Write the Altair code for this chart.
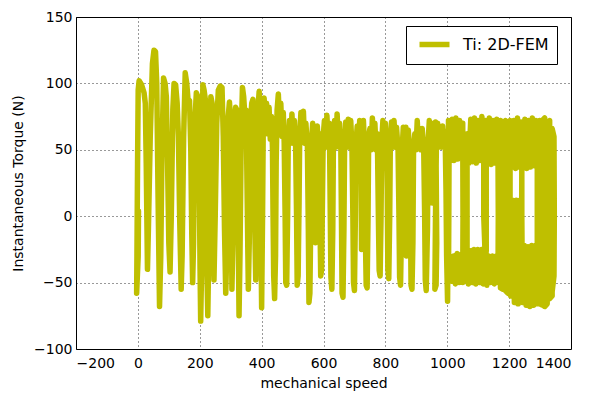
import altair as alt
import pandas as pd

# Trajectory of instantaneous torque vs mechanical speed (in drawing order)
speed_a = [0, 2, 1, -4, -3, -1, 1, 4, 12, 20, 24, 27, 31, 34, 40, 47, 52, 57, 61, 65, 70, 74, 78, 83, 88, 92, 96, 100,
           104, 108, 113, 117, 122, 127, 131, 135, 140, 143, 148, 153, 158, 162, 167, 171, 174, 177, 180, 184, 189,
           194, 198]
torque_a = [0, 4, -30, -58, -30, 40, 95, 102, 99, 93, 85, 40, -40, -10, 60, 115, 125, 124, 100, 20, -68, -30, 50, 104,
            100, 90, 40, -20, -42, 0, 80, 100, 99, 85, 60, 0, -55, -30, 60, 108, 100, 88, 87, 50, -10, -50, -20, 70, 93,
            90, 40]

speed_b = [201, 203, 206, 208, 210, 214, 218, 221, 223, 226, 229, 232, 236, 240, 243, 246, 250, 255, 260, 266, 272, 276,
           280, 284, 288, 292, 296, 300, 302, 304, 307, 311, 316, 320, 323, 327, 330, 334, 338, 342, 346, 350, 353, 357,
           360, 364, 368, 372, 375, 378, 381, 384, 388, 392, 396, 398, 400]
torque_b = [-40, -79, -40, 40, 99, 95, 88, 30, -40, -75, -30, 50, 90, 85, 20, -48, 0, 70, 95, 98, 97, 60, -10, -58, -20,
            75, 86, 70, 0, -55, -20, 70, 82, 80, 20, -75, -30, 60, 97, 90, 75, 80, 20, -55, -20, 70, 85, 88, 60, -10,
            -48, 0, 80, 94, 60, -20, -69]

speed_c = [403, 405, 408, 412, 416, 420, 424, 428, 432, 435,
           437, 439, 442, 445, 447, 450, 454, 458, 462, 466, 470, 473,
           476, 478, 481, 484, 486, 490, 494, 498, 502, 506, 510,
           513, 515, 518, 521, 523, 527, 531, 535, 539, 543, 548,
           551, 553, 556, 559, 561, 565, 569, 572, 574, 577, 580, 584, 587,
           589, 591, 594, 597, 599, 603, 607, 611, 615, 619]
torque_c = [0, 60, 89, 70, 85, 62, 82, 58, 75, 52,
            0, -45, -62, -30, 40, 80, 92, 70, 85, 60, 78, 55,
            0, -50, -52, 0, 55, 72, 55, 77, 55, 72, 52,
            0, -52, -45, 10, 60, 78, 60, 79, 55, 70, 52,
            -10, -65, -58, 0, 55, 70, 50, 66, -20, 40, 68, 50, 62,
            -10, -45, -40, 20, 60, 72, 52, 76, 55, 70]

speed_d = [622, 624, 627, 630, 632, 636, 640, 644, 648, 652, 656,
           658, 660, 663, 666, 668, 672, 676, 680, 684, 688, 692,
           695, 697, 700, 703, 705, 709, 713, 717, 721, 723, 726, 729, 733,
           735, 738, 741, 744, 746, 750, 754, 758, 762, 766, 770, 774,
           778, 780, 783, 786, 788, 792, 796, 800, 804]
torque_d = [0, -46, -55, -10, 55, 72, 52, 77, 55, 70, 52,
            0, -58, -61, -10, 50, 71, 52, 73, 52, 72, 52,
            0, -50, -56, 0, 55, 68, 50, 72, 52, -25, 40, 72, 50,
            -10, -52, -54, 0, 60, 66, 50, 74, 52, 70, 50, 62,
            -10, -41, -45, 0, 55, 72, 52, 70, 52]

speed_e = [806, 808, 811, 814, 816, 820, 824, 828, 832, 836, 841,
           844, 846, 849, 852, 854, 858, 862, 866, 868, 871, 874, 878,
           881, 883, 886, 889, 891, 895, 899, 903, 907, 911, 915, 919, 924,
           927, 929, 932, 936, 938, 942, 946, 950, 952, 955, 959, 962,
           964, 966, 964, 960, 962, 965, 969, 973, 977, 981, 985, 989, 993, 996, 998, 1001]
torque_e = [20, -40, -47, 0, 55, 71, 52, 72, 52, 67, 50,
            0, -46, -52, -10, 50, 67, 50, 67, -30, 40, 65, 50,
            0, -52, -55, -20, 50, 62, 50, 72, 52, 66, 50, 66, 50,
            0, -48, -56, -10, 55, 72, 52, 70, 10, 66, 50, 71,
            40, -20, -52, -55, 0, 55, 70, 52, 66, 52, 68, 52, 64, 20, -30, -64]

# 1000-1060: loop around the first hole
speed_f = [1003, 1004, 1010, 1016, 1022, 1028, 1034, 1040, 1046, 1050, 1051, 1050,
           1044, 1038, 1032, 1026, 1020, 1014, 1008, 1004, 1005, 1006, 1030, 1064]
torque_f = [0, 72, 42, 73, 42, 74, 43, 72, 44, 70, 0, -50,
            -29, -50, -28, -51, -30, -49, -30, -47, 0, 58, 60, 62]

# 1064-1164: two holes
speed_g = [1070, 1076, 1082, 1088, 1094, 1100, 1106, 1112, 1118, 1124, 1130, 1136, 1142, 1148, 1154, 1160, 1164,
           1165, 1164, 1158, 1152, 1146, 1140, 1134, 1128, 1122, 1118, 1118, 1126, 1126,
           1116, 1110, 1104, 1098, 1092, 1086, 1080, 1074, 1068, 1064, 1064, 1064, 1110, 1164]
torque_g = [40, 73, 41, 74, 40, 72, 42, 75, 40, 72, 41, 74, 39, 72, 40, 73, 50,
            0, -50, -30, -51, -30, -50, -30, -52, -26, 0, 40, 42, -26,
            -51, -25, -50, -25, -51, -25, -50, -26, -51, -40, 0, 56, 58, 60]

# 1164-1205: solid column
speed_h = [1172, 1172, 1172, 1180, 1180, 1180, 1188, 1188, 1188, 1196, 1196, 1196, 1203]
torque_h = [72, 0, -54, -55, 0, 70, 72, 0, -56, -58, 0, 68, 72]

# 1203-1291: two more holes
speed_i = [1209, 1215, 1221, 1227, 1233, 1239, 1245, 1251, 1257, 1263, 1269, 1275, 1281, 1287, 1291,
           1291, 1291, 1285, 1279, 1273, 1267, 1261, 1255, 1249, 1243, 1241, 1241, 1240,
           1235, 1229, 1223, 1217, 1211, 1205, 1203, 1203, 1250, 1291]
torque_i = [37, 72, 36, 74, 37, 71, 38, 73, 36, 72, 37, 74, 38, 72, 60,
            0, -66, -22, -67, -22, -68, -23, -67, -22, -65, 0, 38, -62,
            12, -66, 12, -65, 12, -60, 0, 56, 56, 58]

# 1291-1346: solid end block
speed_j = [1299, 1299, 1299, 1307, 1307, 1307, 1315, 1315, 1315, 1323, 1323, 1323, 1331, 1331, 1331, 1339, 1339, 1339,
           1345, 1346, 1345, 1340]
torque_j = [72, 0, -66, -67, 0, 72, 74, 0, -68, -66, 0, 70, 72, 0, -62, -60, 0, 66,
            60, 0, -45, -55]

series_name = "Ti: 2D-FEM"
x_ticks = [-200, 0, 200, 400, 600, 800, 1000, 1200, 1400]
y_ticks = [-100, -50, 0, 50, 100, 150]

speeds = speed_a + speed_b + speed_c + speed_d + speed_e + speed_f + speed_g + speed_h + speed_i + speed_j
torques = torque_a + torque_b + torque_c + torque_d + torque_e + torque_f + torque_g + torque_h + torque_i + torque_j
df = pd.DataFrame({"speed": speeds, "torque": torques,
                   "idx": list(range(len(speeds))), "series": series_name})

FONT = "DejaVu Sans"
minus_fmt = "replace(format(datum.value, 'd'), '-', '\u2212')"

chart = alt.Chart(df).mark_line(
    strokeWidth=5.5, strokeJoin="round", strokeCap="square"
).encode(
    x=alt.X("speed:Q", scale=alt.Scale(domain=[-200, 1400], nice=False, zero=False),
            axis=alt.Axis(values=x_ticks, title="mechanical speed", labelExpr=minus_fmt,
                          titleY=34, titleBaseline="middle", labelPadding=7)),
    y=alt.Y("torque:Q", scale=alt.Scale(domain=[-100, 150], nice=False, zero=False),
            axis=alt.Axis(values=y_ticks, title="Instantaneous Torque (N)", labelExpr=minus_fmt,
                          titleX=-58, titleBaseline="middle", labelPadding=4)),
    color=alt.Color("series:N", scale=alt.Scale(domain=[series_name], range=["#bfbf00"]),
                    legend=alt.Legend(title=None, orient="none", legendX=330, legendY=9,
                                      symbolType="M-2,0H2", symbolSize=225, symbolStrokeWidth=5.5,
                                      symbolOffset=10, labelFontSize=16, labelOffset=18, padding=8,
                                      strokeColor="black", fillColor="white", cornerRadius=0)),
    order=alt.Order("idx:Q"),
).properties(
    width=495, height=332,
    autosize=alt.AutoSizeParams(type="none"),
    padding={"left": 76, "top": 17, "right": 24, "bottom": 45},
    background="white",
).configure_view(
    stroke="black", strokeWidth=1
).configure_axis(
    labelFont=FONT, titleFont=FONT, labelFontSize=14, titleFontSize=14,
    labelColor="black", titleColor="black", titleFontWeight="normal",
    ticks=False, domain=False,
    grid=True, gridColor="black", gridDash=[1, 3], gridWidth=1, gridOpacity=0.8,
).configure_legend(
    labelFont=FONT, labelColor="black"
)

chart.save("out.html", embed_options={"renderer": "svg", "actions": False})
